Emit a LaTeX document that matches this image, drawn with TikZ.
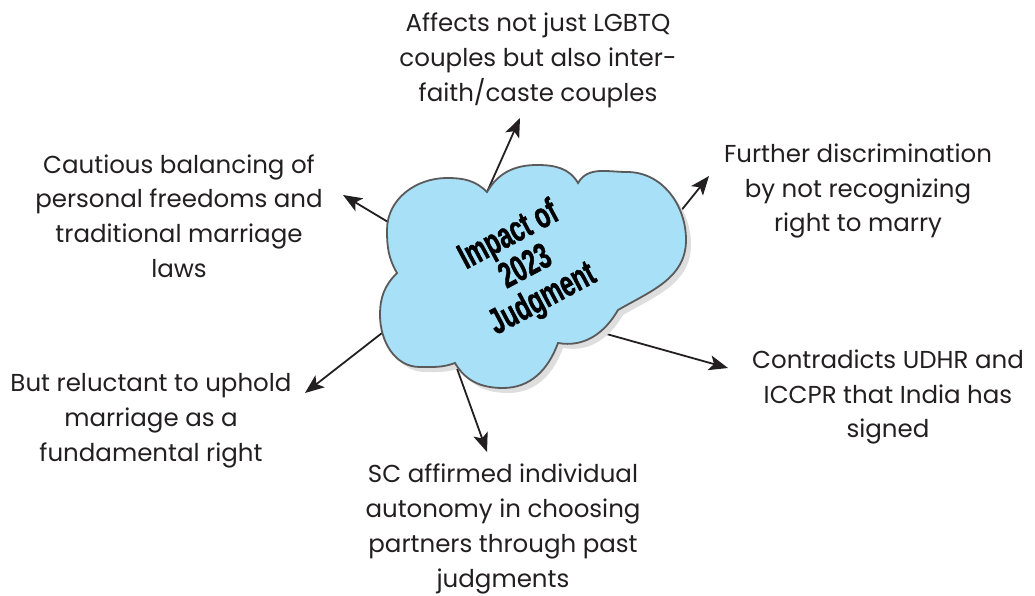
\documentclass[tikz,border=0pt]{standalone}
\usepackage{fontspec}
\usepackage{graphicx}
\setmainfont{Poppins}
\newfontfamily\cloudfont[FakeBold=1.5]{Liberation Sans}
\usetikzlibrary{arrows.meta}
\definecolor{cloudfill}{RGB}{168,224,248}
\definecolor{cloudline}{RGB}{90,90,90}
\definecolor{shadowgray}{RGB}{222,222,222}
\definecolor{ink}{RGB}{35,31,32}
\newcommand{\narrowtxt}[1]{\scalebox{0.67}[1]{#1}}
\tikzset{
 lbl/.style={align=center, text=ink, inner sep=0pt, font=\fontsize{24.5}{34.8}\selectfont},
 arr/.style={draw=ink, line width=1.8pt, -{Stealth[length=19pt,width=15pt,inset=4.5pt]}},
 cloudtxt/.style={rotate=28, align=center, text=black, inner sep=0pt, font=\cloudfont\bfseries\fontsize{36}{36}\selectfont},
}
\def\cloudpath{(397,322) to[out=120,in=270] (387,365) to[out=90,in=180] (447,417) to[out=0,in=135] (487,403) to[out=60,in=180] (537,430) to[out=0,in=120] (578,412) to[out=60,in=180] (627,423) to[out=0,in=90] (686,355) to[out=270,in=30] (618,285) to[out=240,in=-10] (558,252) to[out=250,in=0] (503,207) to[out=180,in=-60] (455,232) to[out=200,in=0] (420,228) to[out=180,in=270] (380,280) to[out=90,in=225] (397,322) -- cycle}
\begin{document}
\begin{tikzpicture}[x=1pt,y=1pt]
\useasboundingbox (0,0) rectangle (1035,595);
% connector end points
\coordinate (s1) at (487,403); \coordinate (e1) at (520,477);
\coordinate (s2) at (388,373); \coordinate (e2) at (343,400);
\coordinate (s3) at (680,383); \coordinate (e3) at (709,419);
\coordinate (s4) at (603,262); \coordinate (e4) at (728,227);
\coordinate (s5) at (382,262); \coordinate (e5) at (305,202);
\coordinate (s6) at (455,232); \coordinate (e6) at (487,143);
\foreach \i in {1,...,6} {\draw[arr] (s\i) -- (e\i);}
% cloud
\begin{scope}[shift={(5,-5)}]
\fill[shadowgray] \cloudpath;
\end{scope}
\draw[cloudline, line width=1.8pt, fill=cloudfill] \cloudpath;
\node[cloudtxt] (title) at (526,327) {\narrowtxt{Impact of}\\\narrowtxt{2023}\\\narrowtxt{Judgment}};
% labels
\node[lbl] (t1) at (538,534.5) {Affects not just LGBTQ\\couples but also inter-\\faith/caste couples};
\node[lbl] (t2) at (179,379) {Cautious balancing of\\personal freedoms and\\traditional marriage\\laws};
\node[lbl] (t3) at (858,404) {Further discrimination\\by not recognizing\\right to marry};
\node[lbl] (t4) at (888,198) {Contradicts UDHR and\\ICCPR that India has\\signed};
\node[lbl] (t5) at (151,174) {But reluctant to uphold\\marriage as a\\fundamental right};
\node[lbl] (t6) at (503,66) {SC affirmed individual\\autonomy in choosing\\partners through past\\judgments};
\end{tikzpicture}
\end{document}
